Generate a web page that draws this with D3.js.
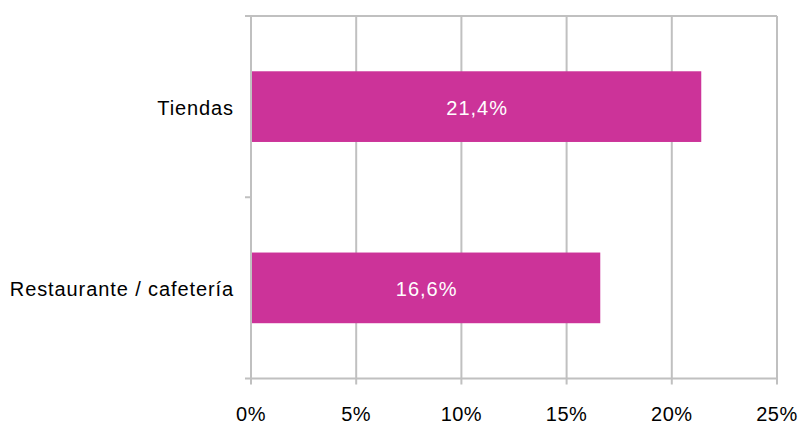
<!DOCTYPE html>
<html>
<head>
<meta charset="utf-8">
<script src="https://cdn.jsdelivr.net/npm/d3@7"></script>
<style>
body { margin: 0; background: #fff; }
text { font-family: "Liberation Sans", Arial, sans-serif; }
</style>
</head>
<body>
<div class="svg-container"></div>
<script>
// data
let categories = ["Tiendas", "Restaurante / cafetería"];
let values = [21.4, 16.6];
let xTicks = [0, 5, 10, 15, 20, 25];

let width = 800;
let height = 426;
let margin = { top: 16, right: 23, bottom: 47.5, left: 251 };

let svg = d3.select(".svg-container")
    .append("svg")
    .attr("width", width)
    .attr("height", height);

let x = d3.scaleLinear()
    .domain([0, 25])
    .range([margin.left, width - margin.right]);

let y = d3.scaleBand()
    .domain(categories)
    .range([margin.top, height - margin.bottom])
    .paddingInner(0.61)
    .paddingOuter(0.305);

let gridColor = "#c0c0c0";

// vertical gridlines
svg.append("g")
    .selectAll("line")
    .data(xTicks)
    .enter()
    .append("line")
    .attr("x1", d => x(d))
    .attr("x2", d => x(d))
    .attr("y1", margin.top)
    .attr("y2", height - margin.bottom + 6)
    .attr("stroke", gridColor)
    .attr("stroke-width", 2);

// top border line
svg.append("line")
    .attr("x1", x(0) - 6)
    .attr("x2", x(25))
    .attr("y1", margin.top)
    .attr("y2", margin.top)
    .attr("stroke", gridColor)
    .attr("stroke-width", 2);

// bottom axis line
svg.append("line")
    .attr("x1", x(0) - 6)
    .attr("x2", x(25))
    .attr("y1", height - margin.bottom)
    .attr("y2", height - margin.bottom)
    .attr("stroke", gridColor)
    .attr("stroke-width", 2);

// category separator tick
let step = y.step();
svg.append("line")
    .attr("x1", x(0) - 6)
    .attr("x2", x(0))
    .attr("y1", margin.top + step)
    .attr("y2", margin.top + step)
    .attr("stroke", gridColor)
    .attr("stroke-width", 2);

// bars
svg.append("g")
    .selectAll("rect")
    .data(values)
    .enter()
    .append("rect")
    .attr("x", x(0) + 1)
    .attr("y", (d, i) => y(categories[i]))
    .attr("width", d => x(d) - x(0) - 1)
    .attr("height", y.bandwidth())
    .attr("fill", "#cc3399");

// value labels
svg.append("g")
    .selectAll("text")
    .data(values)
    .enter()
    .append("text")
    .attr("x", d => (x(0) + x(d)) / 2 + 1)
    .attr("y", (d, i) => y(categories[i]) + y.bandwidth() / 2 + 1)
    .attr("dy", "0.35em")
    .attr("text-anchor", "middle")
    .attr("fill", "#fff")
    .style("font-size", "20px")
    .style("letter-spacing", "1px")
    .text(d => d.toFixed(1).replace(".", ",") + "%");

// category labels
svg.append("g")
    .selectAll("text")
    .data(categories)
    .enter()
    .append("text")
    .attr("x", 234)
    .attr("y", d => y(d) + y.bandwidth() / 2 + 1.5)
    .attr("dy", "0.35em")
    .attr("text-anchor", "end")
    .attr("fill", "#000")
    .style("font-size", "20px")
    .style("letter-spacing", "0.9px")
    .text(d => d);

// x tick labels
svg.append("g")
    .selectAll("text")
    .data(xTicks)
    .enter()
    .append("text")
    .attr("x", d => x(d))
    .attr("y", 414)
    .attr("dy", "0.35em")
    .attr("text-anchor", "middle")
    .attr("fill", "#000")
    .style("font-size", "20px")
    .style("letter-spacing", "0.5px")
    .text(d => d + "%");
</script>
</body>
</html>
